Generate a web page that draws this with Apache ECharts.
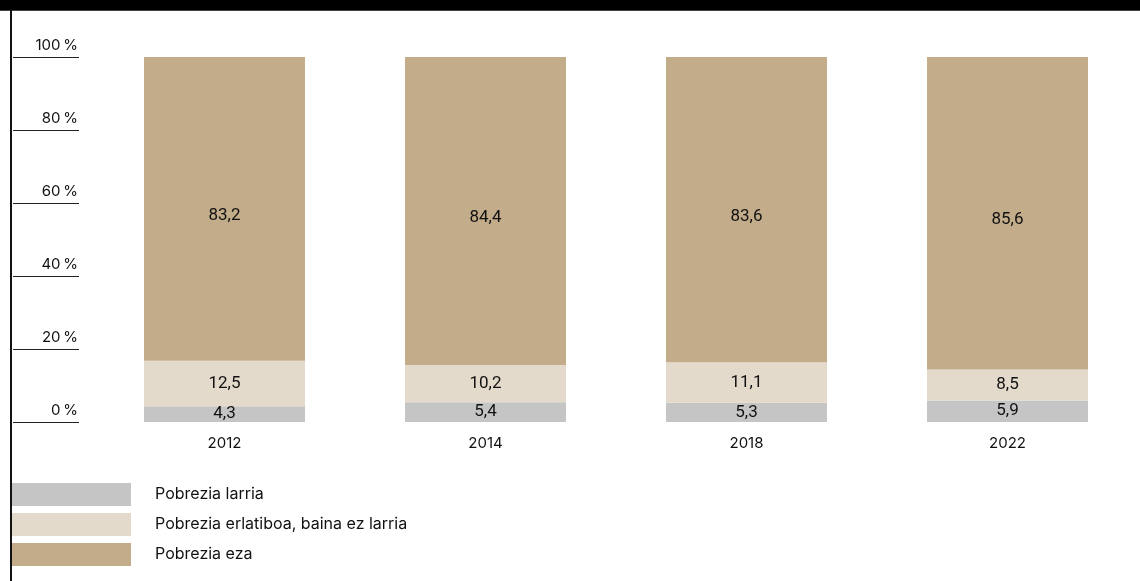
<!DOCTYPE html>
<html><head><meta charset="utf-8">
<script src="https://cdn.jsdelivr.net/npm/echarts@6/dist/echarts.min.js"></script>
<style>html,body{margin:0;padding:0;background:#fff}#c{width:1140px;height:581px}</style>
</head><body><div id="c"></div>
<script>
const years = ['2012', '2014', '2018', '2022'];
const larria = [4.3, 5.4, 5.3, 5.9];
const erlatiboa = [12.5, 10.2, 11.1, 8.5];
const eza = [83.2, 84.4, 83.6, 85.6];
const yTicks = [0, 20, 40, 60, 80, 100];
const seriesNames = ['Pobrezia larria', 'Pobrezia erlatiboa, baina ez larria', 'Pobrezia eza'];
const colors = ['#c5c5c5', '#e3dacb', '#c3ac89'];

const labelFont = "Roboto, 'Noto Sans', sans-serif";
const mainFont = "Inter, Roboto, 'Noto Sans', sans-serif";

const chart = echarts.init(document.getElementById('c'), null, {renderer: 'canvas'});
function mk(name, data, color, dy) {
  return {
    name: name, type: 'bar', stack: 'a', data: data,
    xAxisIndex: 0, yAxisIndex: 0,
    barWidth: 161,
    itemStyle: {color: color},
    label: {show: true, position: 'inside', color: '#111', fontSize: 17, fontFamily: labelFont,
      offset: [0, dy],
      formatter: p => String(p.value).replace('.', ',')}
  };
}
chart.setOption({
  animation: false,
  textStyle: {fontFamily: mainFont},
  grid: [
    {left: 94, right: 2, top: 57, bottom: 159},
    {left: 79, width: 1, top: 57, bottom: 159}
  ],
  xAxis: [
    {type: 'category', gridIndex: 0, data: years,
      axisLine: {show: false}, axisTick: {show: false},
      axisLabel: {color: '#111', fontSize: 15, margin: 14, fontFamily: mainFont}},
    {type: 'category', gridIndex: 1, data: [''], show: false}
  ],
  yAxis: [
    {type: 'value', gridIndex: 0, min: 0, max: 100, interval: 20, show: false},
    {type: 'value', gridIndex: 1, min: 0, max: 100, interval: 20,
      axisLine: {show: false}, splitLine: {show: false},
      axisTick: {show: true, length: 66, lineStyle: {color: '#222', width: 1}},
      axisLabel: {color: '#111', fontSize: 15, margin: 1, verticalAlign: 'bottom',
        padding: [0, 0, 4, 0], fontFamily: mainFont,
        formatter: v => yTicks.includes(v) ? v + '\u2009%' : ''}}
  ],
  legend: {
    orient: 'vertical', left: 11, top: 483, padding: 0, itemWidth: 120, itemHeight: 23, itemGap: 7,
    icon: 'rect', data: seriesNames,
    textStyle: {color: '#111', fontSize: 16, fontFamily: mainFont, padding: [0, 0, 0, 19]}
  },
  graphic: [
    {type: 'rect', shape: {x: 0, y: 0, width: 1140, height: 10}, style: {fill: '#000'}, z: 10},
    {type: 'rect', shape: {x: 0, y: 10, width: 1140, height: 1}, style: {fill: '#444'}, z: 10},
    {type: 'rect', shape: {x: 10, y: 10, width: 2, height: 571}, style: {fill: '#111'}, z: 10}
  ],
  series: [
    mk(seriesNames[0], larria, colors[0], 0),
    mk(seriesNames[1], erlatiboa, colors[1], 0),
    mk(seriesNames[2], eza, colors[2], 7)
  ]
});
</script></body></html>
